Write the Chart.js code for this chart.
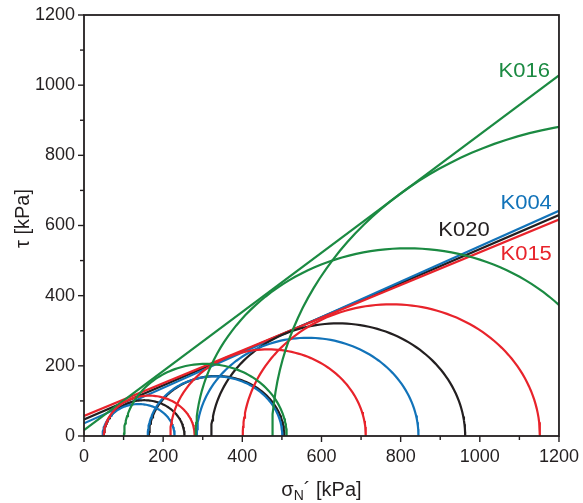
<!DOCTYPE html>
<html>
<head>
<meta charset="utf-8">
<script src="https://cdn.jsdelivr.net/npm/chart.js@4.4.0/dist/chart.umd.min.js"></script>
<style>
  html, body { margin: 0; padding: 0; background: #fff; }
  #wrap { width: 583px; height: 503px; }
</style>
</head>
<body>
<div id="wrap"><canvas id="mohr"></canvas></div>
<script>
// Mohr circles, sigma3 and sigma1 of each stage [kPa]
const sigma3K004 = [47, 161, 285];
const sigma1K004 = [229, 501, 845];
const sigma3K015 = [50, 218, 401];
const sigma1K015 = [280, 712, 1152];
const sigma3K016 = [101, 282, 475];
const sigma1K016 = [512, 1352, 2271];
const sigma3K020 = [50, 164, 321];
const sigma1K020 = [254, 506, 963];

// failure envelopes: tau at sigma = 0 and sigma = 1200 [kPa]
const envelopeSigma = [0, 1200];
const envelopeK004 = [36, 642];
const envelopeK015 = [57, 617];
const envelopeK016 = [17, 1028];
const envelopeK020 = [47, 630];

const axisTicks = [0, 200, 400, 600, 800, 1000, 1200];

const ink = "#231f20";
const specimens = [
  { name: "K016", color: "#1b8a42", s3: sigma3K016, s1: sigma1K016, env: envelopeK016, at: [1177, 1040] },
  { name: "K015", color: "#e8232b", s3: sigma3K015, s1: sigma1K015, env: envelopeK015, at: [1182, 516] },
  { name: "K004", color: "#1273b9", s3: sigma3K004, s1: sigma1K004, env: envelopeK004, at: [1182, 662] },
  { name: "K020", color: ink,       s3: sigma3K020, s1: sigma1K020, env: envelopeK020, at: [1025, 587] }
];

// upper half of a Mohr circle between sigma3 and sigma1
function mohrCircle(s3, s1) {
  const c = (s1 + s3) / 2, r = (s1 - s3) / 2;
  const pts = [];
  for (let a = 0; a <= 180; a += 2) {
    const t = a * Math.PI / 180;
    pts.push({ x: c - r * Math.cos(t), y: r * Math.sin(t) });
  }
  return pts;
}

const datasets = [];
specimens.forEach(s => {
  s.s3.forEach((v, i) => {
    datasets.push({ label: s.name, data: mohrCircle(v, s.s1[i]), borderColor: s.color });
  });
});
specimens.forEach(s => {
  datasets.push({
    label: s.name + " envelope",
    data: envelopeSigma.map((v, i) => ({ x: v, y: s.env[i] })),
    borderColor: s.color
  });
});

const tickFont = { family: "'Liberation Sans', Arial, sans-serif", size: 18 };

const frame = {
  id: "frame",
  afterDatasetsDraw(chart) {
    const { ctx, chartArea: a, scales: { x, y } } = chart;
    ctx.save();
    ctx.strokeStyle = ink;
    ctx.lineWidth = 1.8;
    ctx.strokeRect(a.left, a.top, a.right - a.left, a.bottom - a.top);

    ctx.lineWidth = 1.4;
    x.ticks.forEach(t => {
      const px = x.getPixelForValue(t.value);
      const len = axisTicks.includes(t.value) ? 6 : 4;
      ctx.beginPath(); ctx.moveTo(px, a.bottom); ctx.lineTo(px, a.bottom + len); ctx.stroke();
    });
    y.ticks.forEach(t => {
      const py = y.getPixelForValue(t.value);
      const len = axisTicks.includes(t.value) ? 6 : 4;
      ctx.beginPath(); ctx.moveTo(a.left, py); ctx.lineTo(a.left - len, py); ctx.stroke();
    });

    // specimen labels
    ctx.font = "20px 'Liberation Sans', Arial, sans-serif";
    ctx.textAlign = "right";
    ctx.textBaseline = "middle";
    specimens.forEach(s => {
      const px = x.getPixelForValue(s.at[0]), py = y.getPixelForValue(s.at[1]);
      ctx.save();
      ctx.translate(px, py);
      ctx.scale(1.1, 1);
      ctx.fillStyle = s.color;
      ctx.fillText(s.name, 0, 0);
      ctx.restore();
    });

    // axis titles
    ctx.fillStyle = ink;
    ctx.textBaseline = "alphabetic";
    ctx.textAlign = "left";
    const big = "20px 'Liberation Sans', Arial, sans-serif";
    const small = "14px 'Liberation Sans', Arial, sans-serif";
    ctx.font = big;
    const wSig = ctx.measureText("\u03c3").width;
    ctx.font = small;
    const wN = ctx.measureText("N").width;
    ctx.font = big;
    const wRest = ctx.measureText("\u00b4 [kPa]").width;
    let tx = (a.left + a.right) / 2 - (wSig + wN + wRest) / 2;
    const base = 496;
    ctx.fillText("\u03c3", tx, base); tx += wSig;
    ctx.font = small;
    ctx.fillText("N", tx, base + 4); tx += wN;
    ctx.font = big;
    ctx.fillText("\u00b4 [kPa]", tx, base);

    ctx.save();
    ctx.translate(29, (a.top + a.bottom) / 2 - 7);
    ctx.rotate(-Math.PI / 2);
    ctx.textAlign = "center";
    ctx.fillText("\u03c4 [kPa]", 0, 0);
    ctx.restore();
    ctx.restore();
  }
};

new Chart(document.getElementById("mohr"), {
  type: "scatter",
  data: { datasets: datasets },
  options: {
    responsive: true,
    maintainAspectRatio: false,
    animation: false,
    layout: { padding: { top: 15, right: 22, left: 0, bottom: 0 } },
    elements: {
      line: { borderWidth: 2.2, tension: 0, fill: false },
      point: { radius: 0, hoverRadius: 0 }
    },
    datasets: { scatter: { showLine: true } },
    plugins: { legend: { display: false }, tooltip: { enabled: false } },
    scales: {
      x: {
        type: "linear", min: 0, max: 1200,
        ticks: {
          stepSize: 100, autoSkip: false, maxRotation: 0, padding: 4,
          color: ink, font: tickFont,
          callback: v => axisTicks.includes(v) ? v : ""
        },
        grid: { drawOnChartArea: false, tickLength: 6, tickColor: "rgba(0,0,0,0)" },
        border: { display: false },
        afterFit: s => { s.height = 67; }
      },
      y: {
        type: "linear", min: 0, max: 1200,
        ticks: {
          stepSize: 100, autoSkip: false, padding: 3,
          color: ink, font: tickFont,
          callback: v => axisTicks.includes(v) ? v : ""
        },
        grid: { drawOnChartArea: false, tickLength: 6, tickColor: "rgba(0,0,0,0)" },
        border: { display: false },
        afterFit: s => { s.width = 84; }
      }
    }
  },
  plugins: [frame]
});
</script>
</body>
</html>
